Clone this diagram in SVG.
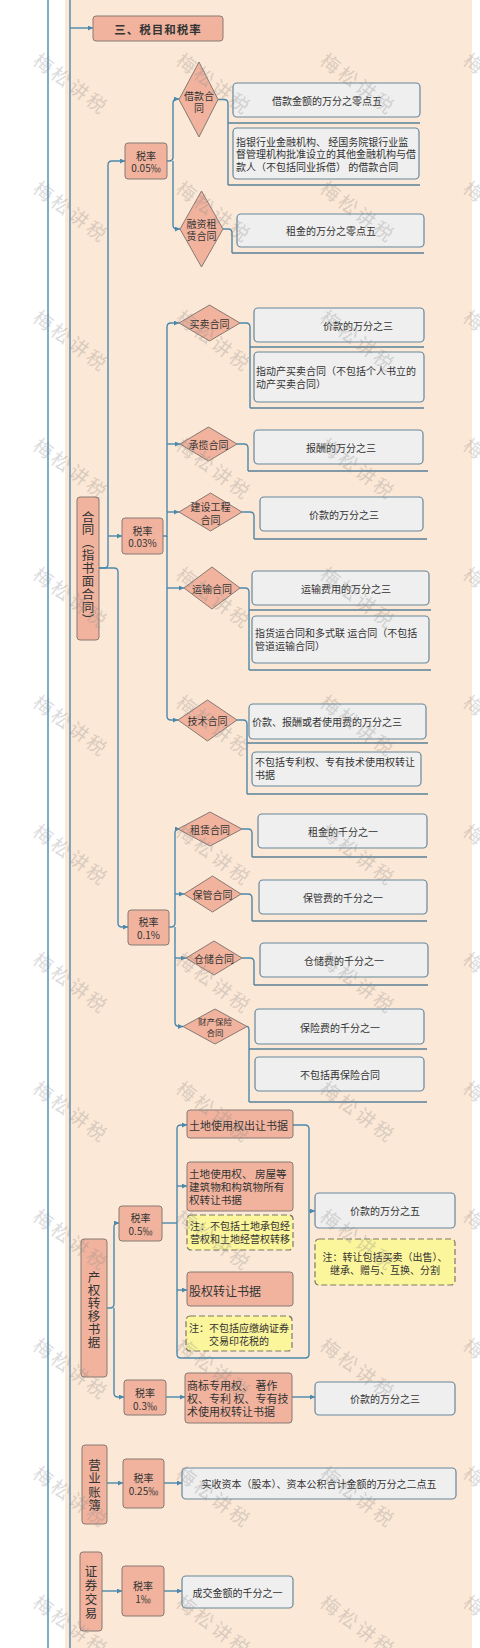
<svg xmlns="http://www.w3.org/2000/svg" width="480" height="1648" viewBox="0 0 480 1648">
<style>
text{font-family:"Noto Sans CJK SC","Noto Sans",sans-serif;fill:#333;}
.c{text-anchor:middle;dominant-baseline:central;}
.l{text-anchor:start;dominant-baseline:central;}
.vt{writing-mode:vertical-rl;text-orientation:upright;text-anchor:start;font-size:12.5px;font-feature-settings:"vert" 0,"vrt2" 0;}
.f10{font-size:10px;}
.f11{font-size:11px;}
.sal{fill:#f1b39e;stroke:#857a74;stroke-width:1;}
.gb{fill:#efefef;stroke:#67879c;stroke-width:1.2;}
.yb{fill:#fbf59c;stroke:#7a7a6a;stroke-width:1.2;stroke-dasharray:6 3;}
.ln{fill:none;stroke:#4a89ad;stroke-width:1.4;}
.ul{fill:none;stroke:#5a8199;stroke-width:1.6;}
.wm{font-size:19px;fill:#8c8c8c;opacity:0.3;letter-spacing:3px;}
</style>
<defs>
<marker id="ah" viewBox="0 0 6 6" refX="6" refY="3" markerWidth="5" markerHeight="5" markerUnits="userSpaceOnUse" orient="auto"><path d="M0,0 L6,3 L0,6 z" fill="#4a89ad"/></marker>
<text id="wmt" class="wm" x="0" y="0" text-anchor="middle" dominant-baseline="central" transform="rotate(37)">梅松讲税</text>
</defs>
<rect width="480" height="1648" fill="#ffffff"/>
<rect x="65" y="0" width="407" height="1648" fill="#fce8d6"/>

<g id="connectors">
<path class="ln" d="M48,0 V1648"/>
<path class="ln" d="M70,0 V1648"/>
<path class="ln" d="M70,28 H93" marker-end="url(#ah)"/>
<path class="ln" d="M99,568 H104 Q108,568 108,564 V165 Q108,161 112,161 H125" marker-end="url(#ah)"/>
<path class="ln" d="M108,536 H122" marker-end="url(#ah)"/>
<path class="ln" d="M99,568 H114 Q118,568 118,572 V923 Q118,927 122,927 H128" marker-end="url(#ah)"/>
<path class="ln" d="M167,161 H169 Q173,161 173,157 V103 Q173,99 177,99 H179" marker-end="url(#ah)"/>
<path class="ln" d="M173,161 V225 Q173,229 177,229 H180" marker-end="url(#ah)"/>
<path class="ln" d="M218,99.5 H224 Q228,99.5 228,103.5 V185"/>
<path class="ul" d="M228,123 H420 M228,185 H420"/>
<path class="ln" d="M223,229 H228 Q232,229 232,233 V253"/>
<path class="ul" d="M232,253 H424"/>
<path class="ln" d="M163,536 H167 V327 Q167,323 171,323 H179" marker-end="url(#ah)"/>
<path class="ln" d="M167,536 V716 Q167,720 171,720 H178" marker-end="url(#ah)"/>
<path class="ln" d="M167,444 H180" marker-end="url(#ah)"/>
<path class="ln" d="M167,512 H179" marker-end="url(#ah)"/>
<path class="ln" d="M167,588 H184" marker-end="url(#ah)"/>
<path class="ln" d="M240,323 H246 Q250,323 250,327 V408"/>
<path class="ul" d="M250,347 H424 M250,408 H424"/>
<path class="ln" d="M237,444 H244 Q248,444 248,448 V471"/>
<path class="ul" d="M248,471 H428"/>
<path class="ln" d="M242,512 H250 Q254,512 254,516 V539"/>
<path class="ul" d="M254,539 H427"/>
<path class="ln" d="M240,588 H245 Q249,588 249,592 V670"/>
<path class="ul" d="M249,610 H431 M249,670 H431"/>
<path class="ln" d="M237,720 H243 Q247,720 247,724 V794"/>
<path class="ul" d="M247,743 H428 M247,794 H428"/>
<path class="ln" d="M169,927 H171 Q175,927 175,923 V833 Q175,829 179,829 H180" marker-end="url(#ah)"/>
<path class="ln" d="M175,927 V1022 Q175,1026.5 179,1026.5 H183" marker-end="url(#ah)"/>
<path class="ln" d="M175,894 H184" marker-end="url(#ah)"/>
<path class="ln" d="M175,958 H186" marker-end="url(#ah)"/>
<path class="ln" d="M242,829 H248 Q252,829 252,833 V857"/>
<path class="ul" d="M252,857 H427"/>
<path class="ln" d="M241,894 H248 Q252,894 252,898 V921"/>
<path class="ul" d="M252,921 H427"/>
<path class="ln" d="M242,958 H250 Q254,958 254,962 V985"/>
<path class="ul" d="M254,985 H428"/>
<path class="ln" d="M247,1026.5 Q249,1026.5 249,1030.5 V1102"/>
<path class="ul" d="M249,1049 H427 M249,1102 H427"/>
<path class="ln" d="M107,1308 H110 Q114,1308 114,1304 V1227 Q114,1223 118,1223 H119" marker-end="url(#ah)"/>
<path class="ln" d="M114,1308 V1393 Q114,1397 118,1397 H124" marker-end="url(#ah)"/>
<path class="ln" d="M162,1223 H177"/>
<path class="ln" d="M293,1125 H305 Q309,1125 309,1129 V1354 Q309,1358 305,1358 H181 Q177,1358 177,1354 V1129 Q177,1125 181,1125 H187" marker-end="url(#ah)"/>
<path class="ln" d="M177,1186 H187" marker-end="url(#ah)"/>
<path class="ln" d="M177,1290 H187" marker-end="url(#ah)"/>
<path class="ln" d="M309,1211 H315" marker-end="url(#ah)"/>
<path class="ln" d="M166,1397 H185" marker-end="url(#ah)"/>
<path class="ln" d="M292,1397 H315" marker-end="url(#ah)"/>
<path class="ln" d="M107,1483 H123" marker-end="url(#ah)"/>
<path class="ln" d="M164,1483 H182" marker-end="url(#ah)"/>
<path class="ln" d="M102,1591 H122" marker-end="url(#ah)"/>
<path class="ln" d="M164,1591 H182" marker-end="url(#ah)"/>
</g>

<g id="n-title"><rect class="sal" x="93" y="16" width="130" height="25" rx="3"/><text class="c" x="158" y="28.5" font-size="11.5" font-weight="bold" letter-spacing="1">三、税目和税率</text></g>

<g id="n-hetong"><rect class="sal" x="77" y="497" width="22" height="143" rx="3"/><text class="vt" x="88" y="510.5" letter-spacing="0.4">合同（指书面合同）</text></g>

<g id="n-r005"><rect class="sal" x="125" y="143" width="42" height="36" rx="3"/><text class="c f10" x="146" y="155">税率</text><text class="c f10" x="146" y="167">0.05‰</text></g>
<g id="n-r003"><rect class="sal" x="122" y="518" width="41" height="36" rx="3"/><text class="c f10" x="142.5" y="530">税率</text><text class="c f10" x="142.5" y="542">0.03%</text></g>
<g id="n-r01"><rect class="sal" x="128" y="910" width="41" height="35" rx="3"/><text class="c f10" x="148.5" y="921">税率</text><text class="c f10" x="148.5" y="934">0.1%</text></g>

<g id="n-jiekuan"><polygon class="sal" points="199,62 218,99.5 199,137 179,99.5"/><text class="c f10" x="199" y="95">借款合</text><text class="c f10" x="199" y="107.5">同</text></g>
<g id="n-rongzi"><polygon class="sal" points="201.5,191 223,229 201.5,267 180,229"/><text class="c f10" x="201.5" y="223">融资租</text><text class="c f10" x="201.5" y="235.5">赁合同</text></g>
<g id="n-maimai"><polygon class="sal" points="209.5,305 240,323 209.5,341 179,323"/><text class="c f10" x="209.5" y="323">买卖合同</text></g>
<g id="n-chenglan"><polygon class="sal" points="208.5,427 237,444 208.5,461 180,444"/><text class="c f10" x="208.5" y="444">承揽合同</text></g>
<g id="n-jianshe"><polygon class="sal" points="210.5,493 242,512 210.5,531 179,512"/><text class="c f10" x="210.5" y="506.5">建设工程</text><text class="c f10" x="210.5" y="519">合同</text></g>
<g id="n-yunshu"><polygon class="sal" points="212,567 240,588 212,609 184,588"/><text class="c f10" x="212" y="588">运输合同</text></g>
<g id="n-jishu"><polygon class="sal" points="207.5,700 237,720 207.5,741 178,720"/><text class="c f10" x="207.5" y="720">技术合同</text></g>
<g id="n-zulin"><polygon class="sal" points="210,812 242,829 210,846 178,829"/><text class="c f10" x="210" y="829">租赁合同</text></g>
<g id="n-baoguan"><polygon class="sal" points="212.5,876 241,894 212.5,912 184,894"/><text class="c f10" x="212.5" y="894">保管合同</text></g>
<g id="n-cangchu"><polygon class="sal" points="214,941 242,958 214,975 186,958"/><text class="c f10" x="214" y="958">仓储合同</text></g>
<g id="n-caichan"><polygon class="sal" points="215,1009 247,1026.5 215,1044 183,1026.5"/><text class="c" font-size="8.5" x="215" y="1020.5">财产保险</text><text class="c" font-size="8.5" x="215" y="1032">合同</text></g>

<g id="b1"><rect class="gb" x="233" y="83" width="187" height="34" rx="4"/><text class="c f10" x="327" y="100">借款金额的万分之零点五</text></g>
<g id="b2"><rect class="gb" x="233" y="128" width="186" height="51" rx="4"/><text class="l f10" x="236" y="141">指银行业金融机构、 经国务院银行业监</text><text class="l f10" x="236" y="153.5">督管理机构批准设立的其他金融机构与借</text><text class="l f10" x="236" y="166">款人（不包括同业拆借） 的借款合同</text></g>
<g id="b3"><rect class="gb" x="237" y="214" width="187" height="33" rx="4"/><text class="c f10" x="331" y="230.5">租金的万分之零点五</text></g>
<g id="b4"><rect class="gb" x="254" y="308" width="170" height="34" rx="4"/><text class="c f10" x="358" y="325">价款的万分之三</text></g>
<g id="b5"><rect class="gb" x="254" y="352" width="170" height="50" rx="4"/><text class="l f10" x="256" y="370.5">指动产买卖合同（不包括个人书立的</text><text class="l f10" x="256" y="383">动产买卖合同）</text></g>
<g id="b6"><rect class="gb" x="254" y="430" width="169" height="34" rx="4"/><text class="c f10" x="341" y="447">报酬的万分之三</text></g>
<g id="b7"><rect class="gb" x="260" y="497" width="163" height="34" rx="4"/><text class="c f10" x="344" y="514">价款的万分之三</text></g>
<g id="b8"><rect class="gb" x="252" y="571" width="177" height="34" rx="4"/><text class="c f10" x="346" y="588">运输费用的万分之三</text></g>
<g id="b9"><rect class="gb" x="252" y="616" width="177" height="47" rx="4"/><text class="l f10" x="255" y="632.5">指货运合同和多式联 运合同（不包括</text><text class="l f10" x="255" y="645">管道运输合同）</text></g>
<g id="b10"><rect class="gb" x="249" y="704" width="177" height="35" rx="4"/><text class="l f10" x="252" y="721.5">价款、报酬或者使用费的万分之三</text></g>
<g id="b11"><rect class="gb" x="252" y="752" width="169" height="34" rx="4"/><text class="l f10" x="255" y="761.5">不包括专利权、专有技术使用权转让</text><text class="l f10" x="255" y="774">书据</text></g>
<g id="b12"><rect class="gb" x="258" y="814" width="169" height="34" rx="4"/><text class="c f10" x="343" y="831">租金的千分之一</text></g>
<g id="b13"><rect class="gb" x="259" y="880" width="168" height="34" rx="4"/><text class="c f10" x="343" y="897">保管费的千分之一</text></g>
<g id="b14"><rect class="gb" x="260" y="943" width="168" height="34" rx="4"/><text class="c f10" x="344" y="960">仓储费的千分之一</text></g>
<g id="b15"><rect class="gb" x="255" y="1009" width="169" height="35" rx="4"/><text class="c f10" x="340" y="1027">保险费的千分之一</text></g>
<g id="b16"><rect class="gb" x="255" y="1057" width="169" height="34" rx="4"/><text class="c f10" x="340" y="1074">不包括再保险合同</text></g>

<g id="n-chanquan"><rect class="sal" x="81" y="1239" width="26" height="138" rx="3"/><text class="vt" x="94" y="1270.5" letter-spacing="0.5">产权转移书据</text></g>
<g id="n-r05"><rect class="sal" x="119" y="1206" width="43" height="35" rx="3"/><text class="c f10" x="140.5" y="1217">税率</text><text class="c f10" x="140.5" y="1230">0.5‰</text></g>
<g id="n-r03"><rect class="sal" x="124" y="1380" width="42" height="35" rx="3"/><text class="c f10" x="145" y="1392">税率</text><text class="c f10" x="145" y="1405">0.3‰</text></g>
<g id="s1"><rect class="sal" x="187" y="1110" width="106" height="28" rx="3"/><text class="l f11" x="189" y="1124.5">土地使用权出让书据</text></g>
<g id="s2"><rect class="sal" x="187" y="1162" width="106" height="49" rx="3"/><text class="l" font-size="10.6" x="189" y="1173.5">土地使用权、 房屋等</text><text class="l" font-size="10.6" x="189" y="1186.5">建筑物和构筑物所有</text><text class="l" font-size="10.6" x="189" y="1199.5">权转让书据</text></g>
<g id="y1"><rect class="yb" x="187" y="1215" width="106" height="35" rx="4"/><text class="c f10" x="240" y="1225">注：不包括土地承包经</text><text class="c f10" x="240" y="1238">营权和土地经营权转移</text></g>
<g id="s3"><rect class="sal" x="187" y="1272" width="106" height="34" rx="3"/><text class="l" font-size="12" x="189" y="1290">股权转让书据</text></g>
<g id="y2"><rect class="yb" x="186" y="1316" width="106" height="35" rx="4"/><text class="c f10" x="239" y="1327.5">注：不包括应缴纳证券</text><text class="c f10" x="239" y="1340">交易印花税的</text></g>
<g id="b17"><rect class="gb" x="315" y="1193" width="140" height="35" rx="4"/><text class="c f10" x="385" y="1210.5">价款的万分之五</text></g>
<g id="y3"><rect class="yb" x="315" y="1239" width="140" height="46" rx="4"/><text class="c f10" x="385" y="1256">注：转让包括买卖（出售）、</text><text class="c f10" x="385" y="1269">继承、赠与、互换、分割</text></g>
<g id="s4"><rect class="sal" x="185" y="1373" width="107" height="50" rx="3"/><text class="l f11" x="187" y="1384.5">商标专用权、 著作</text><text class="l f11" x="187" y="1397.5">权、专利 权、专有技</text><text class="l f11" x="187" y="1410.5">术使用权转让书据</text></g>
<g id="b18"><rect class="gb" x="315" y="1382" width="140" height="33" rx="4"/><text class="c f10" x="385" y="1398">价款的万分之三</text></g>

<g id="n-yingye"><rect class="sal" x="82" y="1445" width="25" height="79" rx="3"/><text class="vt" x="94.5" y="1458.5" letter-spacing="1">营业账簿</text></g>
<g id="n-r025"><rect class="sal" x="123" y="1459" width="41" height="49" rx="3"/><text class="c f10" x="143.5" y="1477">税率</text><text class="c f10" x="143.5" y="1490">0.25‰</text></g>
<g id="b19"><rect class="gb" x="182" y="1468" width="274" height="31" rx="4"/><text class="c f10" x="319" y="1483.5">实收资本（股本）、资本公积合计金额的万分之二点五</text></g>

<g id="n-zhengquan"><rect class="sal" x="80" y="1552" width="22" height="79" rx="3"/><text class="vt" x="91" y="1564.5" letter-spacing="1.5">证券交易</text></g>
<g id="n-r1"><rect class="sal" x="122" y="1566" width="42" height="50" rx="3"/><text class="c f10" x="143" y="1585">税率</text><text class="c f10" x="143" y="1598">1‰</text></g>
<g id="b20"><rect class="gb" x="182" y="1576" width="111" height="32" rx="4"/><text class="c f10" x="237.5" y="1592">成交金额的千分之一</text></g>

<g id="watermark">
<use href="#wmt" x="72" y="83"/><use href="#wmt" x="215" y="83"/><use href="#wmt" x="359" y="83"/><use href="#wmt" x="502" y="83"/>
<use href="#wmt" x="72" y="211"/><use href="#wmt" x="215" y="211"/><use href="#wmt" x="359" y="211"/><use href="#wmt" x="502" y="211"/>
<use href="#wmt" x="72" y="340"/><use href="#wmt" x="215" y="340"/><use href="#wmt" x="359" y="340"/><use href="#wmt" x="502" y="340"/>
<use href="#wmt" x="72" y="468"/><use href="#wmt" x="215" y="468"/><use href="#wmt" x="359" y="468"/><use href="#wmt" x="502" y="468"/>
<use href="#wmt" x="72" y="597"/><use href="#wmt" x="215" y="597"/><use href="#wmt" x="359" y="597"/><use href="#wmt" x="502" y="597"/>
<use href="#wmt" x="72" y="725"/><use href="#wmt" x="215" y="725"/><use href="#wmt" x="359" y="725"/><use href="#wmt" x="502" y="725"/>
<use href="#wmt" x="72" y="854"/><use href="#wmt" x="215" y="854"/><use href="#wmt" x="359" y="854"/><use href="#wmt" x="502" y="854"/>
<use href="#wmt" x="72" y="982"/><use href="#wmt" x="215" y="982"/><use href="#wmt" x="359" y="982"/><use href="#wmt" x="502" y="982"/>
<use href="#wmt" x="72" y="1111"/><use href="#wmt" x="215" y="1111"/><use href="#wmt" x="359" y="1111"/><use href="#wmt" x="502" y="1111"/>
<use href="#wmt" x="72" y="1239"/><use href="#wmt" x="215" y="1239"/><use href="#wmt" x="359" y="1239"/><use href="#wmt" x="502" y="1239"/>
<use href="#wmt" x="72" y="1368"/><use href="#wmt" x="215" y="1368"/><use href="#wmt" x="359" y="1368"/><use href="#wmt" x="502" y="1368"/>
<use href="#wmt" x="72" y="1496"/><use href="#wmt" x="215" y="1496"/><use href="#wmt" x="359" y="1496"/><use href="#wmt" x="502" y="1496"/>
<use href="#wmt" x="72" y="1625"/><use href="#wmt" x="215" y="1625"/><use href="#wmt" x="359" y="1625"/><use href="#wmt" x="502" y="1625"/>
</g>
</svg>
